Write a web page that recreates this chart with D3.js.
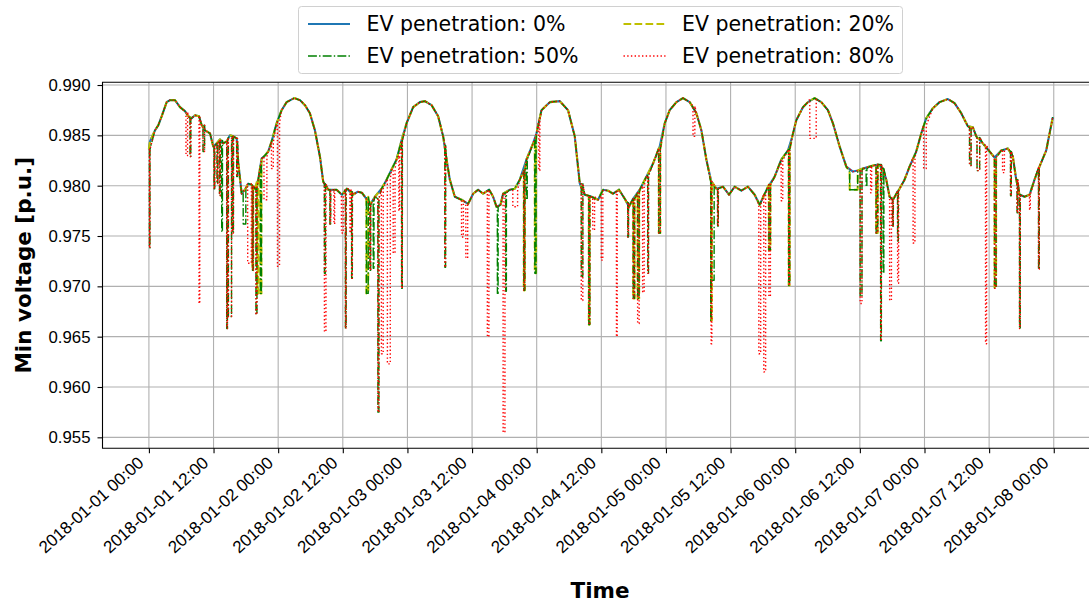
<!DOCTYPE html>
<html>
<head>
<meta charset="utf-8">
<script src="https://cdnjs.cloudflare.com/ajax/libs/d3/7.8.5/d3.min.js"></script>
<style>
body { margin: 0; background: #fff; }
svg { display: block; font-family: "DejaVu Sans", sans-serif; }
</style>
</head>
<body>
<svg></svg>
<script>
// base curve (0% EV): hours after 2018-01-01 00:00 and min voltage [p.u.]
var baseHours = [0, 0.2, 1.13, 1.74, 2.38, 3.30, 3.92, 4.84, 5.77, 6.70, 7.31, 7.94, 8.55, 9.30, 9.80, 10.41, 11.34, 11.95, 12.58, 13.19, 13.81, 14.44, 15.05, 15.66, 16.29, 16.59, 17.22, 17.83, 18.44, 19.08, 19.69, 20.30, 20.93, 21.54, 22.16, 22.79, 23.71,
	24.64, 25.57, 26.98, 28.04, 28.97, 29.89, 30.82, 31.75, 32.36, 33.29, 34.85, 35.83, 36.76, 37.87, 38.80, 39.54, 40.10, 41.03, 41.96, 43.20, 44.13, 45.05, 45.98, 46.91, 47.84,
	49.06, 50.31, 51.23, 52.48, 53.70, 54.63, 55.26, 55.87, 56.80, 58.04, 59.27, 60.20, 61.12, 62.05, 63.17, 63.91, 64.54, 65.28, 65.76, 67.01, 67.93, 68.86, 70.10, 71.33, 71.96,
	72.89, 74.43, 76.29, 77.82, 79.07, 80.00, 80.92, 82.17, 83.39, 84.32, 85.25, 86.18, 87.29, 88.35, 89.14, 89.89, 91.13, 92.37, 93.60, 94.84, 95.77,
	96.69, 97.94, 99.16, 100.41, 101.65, 102.58, 103.50, 104.43, 105.36, 106.59, 107.70, 108.76, 110.00, 111.22, 112.47, 113.40, 114.33, 115.25, 116.18, 117.42, 118.65, 119.46,
	120.20, 121.43, 122.36, 123.60, 124.84, 126.07, 127.00, 128.24, 129.48, 130.71, 131.64, 132.57, 133.81, 135.35, 136.27, 136.90, 137.52, 138.13, 139.37, 140.30, 141.23, 142.47, 143.40,
	144.33, 145.56, 146.80, 148.34, 149.58, 150.82, 152.05, 152.98, 153.61, 154.83, 156.08, 157.00, 158.25, 159.47, 160.40, 161.03, 161.64, 162.57, 163.50, 164.43, 165.35, 166.60, 167.82];
var baseVolts = [0.9836, 0.9844, 0.9855, 0.9860, 0.9869, 0.9883, 0.9885, 0.9885, 0.9878, 0.9874, 0.9869, 0.9867, 0.9870, 0.9869, 0.9860, 0.9855, 0.9852, 0.9839, 0.9842, 0.9846, 0.9842, 0.9844, 0.9850, 0.9849, 0.9847, 0.9823, 0.9792, 0.9796, 0.9802, 0.9801, 0.9797, 0.9806, 0.9827, 0.9830, 0.9834, 0.9844, 0.9862,
	0.9875, 0.9883, 0.9887, 0.9885, 0.9880, 0.9872, 0.9855, 0.9829, 0.9804, 0.9796, 0.9796, 0.9791, 0.9797, 0.9791, 0.9794, 0.9793, 0.9789, 0.9781, 0.9789, 0.9797, 0.9806, 0.9816, 0.9826, 0.9845, 0.9862,
	0.9878, 0.9883, 0.9884, 0.9880, 0.9869, 0.9849, 0.9826, 0.9806, 0.9789, 0.9786, 0.9782, 0.9792, 0.9796, 0.9792, 0.9796, 0.9789, 0.9779, 0.9781, 0.9792, 0.9796, 0.9797, 0.9806, 0.9826, 0.9842, 0.9852,
	0.9875, 0.9883, 0.9884, 0.9875, 0.9849, 0.9802, 0.9791, 0.9789, 0.9786, 0.9796, 0.9795, 0.9792, 0.9796, 0.9787, 0.9779, 0.9787, 0.9796, 0.9809, 0.9822, 0.9839, 0.9862,
	0.9875, 0.9883, 0.9887, 0.9883, 0.9872, 0.9855, 0.9826, 0.9804, 0.9797, 0.9799, 0.9791, 0.9799, 0.9795, 0.9799, 0.9791, 0.9781, 0.9792, 0.9801, 0.9809, 0.9826, 0.9835, 0.9849,
	0.9865, 0.9878, 0.9883, 0.9887, 0.9883, 0.9875, 0.9862, 0.9839, 0.9819, 0.9814, 0.9815, 0.9817, 0.9819, 0.9821, 0.9817, 0.9806, 0.9789, 0.9786, 0.9797, 0.9806, 0.9819, 0.9834, 0.9852,
	0.9867, 0.9877, 0.9883, 0.9886, 0.9882, 0.9872, 0.9859, 0.9858, 0.9849, 0.9842, 0.9834, 0.9828, 0.9835, 0.9837, 0.9829, 0.9806, 0.9791, 0.9789, 0.9791, 0.9806, 0.9819, 0.9835, 0.9868];

// voltage dips from EV charging: [hour, voltage before, lowest voltage, length in hours]
var dips20 = [[19.22, 0.9800, 0.9716, 0.15], [20.1, 0.9805, 0.9693, 0.2], [20.7, 0.9820, 0.9693, 0.2], [40.38, 0.9789, 0.9693, 0.35],
	[69.6, 0.9815, 0.9696, 0.2], [71.64, 0.9845, 0.9713, 0.25], [81.67, 0.9790, 0.9662, 0.15], [89.92, 0.9787, 0.9688, 0.25],
	[90.73, 0.9793, 0.9688, 0.3], [94.66, 0.9837, 0.9753, 0.3], [104.38, 0.9804, 0.9666, 0.15], [115.1, 0.9801, 0.9736, 0.3],
	[118.78, 0.9836, 0.9701, 0.2], [130.1, 0.9814, 0.9796, 1.5], [135.02, 0.9821, 0.9753, 0.3], [157.0, 0.9828, 0.9698, 0.3]];

var dips50 = [[0.1, 0.9836, 0.9738, 0.1], [7.63, 0.9867, 0.9829, 0.15], [10.04, 0.9860, 0.9834, 0.3], [12.08, 0.9839, 0.9797, 0.15],
	[12.64, 0.9842, 0.9802, 0.15], [13.10, 0.9845, 0.9790, 0.15], [13.51, 0.9845, 0.9754, 0.15], [14.44, 0.9844, 0.9658, 0.15],
	[14.75, 0.9848, 0.9670, 0.6], [15.55, 0.9849, 0.9753, 0.15], [16.29, 0.9847, 0.9809, 0.15], [17.5, 0.9795, 0.9762, 0.5],
	[19.22, 0.9800, 0.9716, 0.15], [19.87, 0.9798, 0.9672, 0.2], [20.7, 0.9820, 0.9693, 0.2], [32.58, 0.9802, 0.9713, 0.2],
	[33.6, 0.9796, 0.9762, 0.15], [36.48, 0.9796, 0.9658, 0.15], [37.63, 0.9794, 0.9708, 0.15], [40.38, 0.9789, 0.9693, 0.35],
	[41.03, 0.9781, 0.9716, 0.15], [41.64, 0.9785, 0.9718, 0.15], [42.51, 0.9787, 0.9575, 0.2], [46.91, 0.9845, 0.9698, 0.15],
	[54.94, 0.9840, 0.9719, 0.15], [64.69, 0.9779, 0.9693, 0.15], [66.23, 0.9793, 0.9695, 0.15], [69.6, 0.9815, 0.9696, 0.2],
	[70.1, 0.9826, 0.9786, 0.15], [71.64, 0.9845, 0.9713, 0.25], [80.27, 0.9802, 0.9710, 0.3], [81.67, 0.9790, 0.9662, 0.2],
	[88.9, 0.9783, 0.9749, 0.15], [89.92, 0.9787, 0.9688, 0.25], [90.73, 0.9793, 0.9688, 0.3], [92.61, 0.9810, 0.9713, 0.15],
	[94.66, 0.9837, 0.9753, 0.3], [104.3, 0.9804, 0.9666, 0.12], [104.45, 0.9800, 0.9706, 0.5], [105.58, 0.9797, 0.9760, 0.15],
	[115.1, 0.9801, 0.9736, 0.3], [118.78, 0.9836, 0.9701, 0.2], [130.1, 0.9814, 0.9796, 1.5], [132.05, 0.9815, 0.9690, 0.35],
	[133.16, 0.9817, 0.9799, 0.15], [135.02, 0.9821, 0.9753, 0.3], [135.85, 0.9821, 0.9646, 0.15], [136.31, 0.9817, 0.9713, 0.15],
	[138.07, 0.9786, 0.9760, 0.15], [139.0, 0.9795, 0.9745, 0.15], [152.36, 0.9858, 0.9820, 0.3], [153.75, 0.9848, 0.9815, 0.5],
	[157.0, 0.9828, 0.9698, 0.3], [159.97, 0.9834, 0.9790, 0.15], [161.18, 0.9806, 0.9773, 0.15], [161.64, 0.9791, 0.9658, 0.15],
	[165.17, 0.9818, 0.9717, 0.15]];

var dips80 = [[0.1, 0.9836, 0.9738, 0.1], [6.88, 0.9873, 0.9830, 0.3], [7.63, 0.9867, 0.9829, 0.15], [9.30, 0.9868, 0.9683, 0.15],
	[10.04, 0.9860, 0.9834, 0.3], [12.08, 0.9839, 0.9797, 0.15], [12.64, 0.9842, 0.9802, 0.15], [13.10, 0.9845, 0.9790, 0.15],
	[14.44, 0.9844, 0.9658, 0.15], [14.75, 0.9848, 0.9670, 0.6], [15.55, 0.9849, 0.9753, 0.15], [16.29, 0.9847, 0.9809, 0.15],
	[18.33, 0.9802, 0.9723, 0.7], [19.22, 0.9800, 0.9716, 0.15], [19.87, 0.9798, 0.9672, 0.2], [21.36, 0.9829, 0.9786, 0.55],
	[22.75, 0.9843, 0.9817, 0.35], [23.86, 0.9863, 0.9720, 0.4], [32.58, 0.9802, 0.9655, 0.3], [33.6, 0.9796, 0.9762, 0.15],
	[34.35, 0.9796, 0.9762, 0.15], [35.74, 0.9791, 0.9753, 0.35], [36.48, 0.9796, 0.9658, 0.15], [37.32, 0.9797, 0.9753, 0.1],
	[37.63, 0.9794, 0.9708, 0.15], [41.03, 0.9781, 0.9716, 0.15], [42.51, 0.9787, 0.9575, 0.2], [43.16, 0.9797, 0.9633, 0.35],
	[44.27, 0.9806, 0.9623, 0.55], [45.35, 0.9817, 0.9733, 0.35], [46.4, 0.9830, 0.9775, 0.15], [46.91, 0.9845, 0.9698, 0.15],
	[54.94, 0.9840, 0.9719, 0.15], [58.04, 0.9786, 0.9749, 0.35], [58.84, 0.9783, 0.9728, 0.35], [62.83, 0.9795, 0.9650, 0.3],
	[65.76, 0.9792, 0.9555, 0.35], [67.56, 0.9796, 0.9779, 0.9], [69.6, 0.9815, 0.9696, 0.2], [72.39, 0.9865, 0.9815, 0.2],
	[80.27, 0.9802, 0.9686, 0.3], [81.67, 0.9790, 0.9662, 0.2], [82.4, 0.9789, 0.9756, 0.35], [83.98, 0.9790, 0.9726, 0.3],
	[86.8, 0.9794, 0.9650, 0.15], [88.9, 0.9783, 0.9749, 0.15], [89.92, 0.9787, 0.9688, 0.25], [90.73, 0.9793, 0.9663, 0.3],
	[91.66, 0.9800, 0.9694, 0.3], [92.61, 0.9810, 0.9713, 0.15], [94.66, 0.9837, 0.9753, 0.3], [101.02, 0.9879, 0.9849, 0.35],
	[104.38, 0.9804, 0.9643, 0.15], [105.58, 0.9797, 0.9760, 0.15], [113.24, 0.9781, 0.9633, 0.35], [114.16, 0.9792, 0.9615, 0.35],
	[115.1, 0.9801, 0.9690, 0.3], [117.39, 0.9825, 0.9785, 0.3], [118.78, 0.9836, 0.9701, 0.2], [122.7, 0.9886, 0.9847, 1.2],
	[132.05, 0.9815, 0.9683, 0.35], [133.99, 0.9819, 0.9793, 0.2], [135.02, 0.9821, 0.9753, 0.3], [135.85, 0.9821, 0.9646, 0.15],
	[137.52, 0.9789, 0.9686, 0.35], [138.07, 0.9786, 0.9760, 0.15], [139.0, 0.9795, 0.9703, 0.2], [141.88, 0.9828, 0.9743, 0.35],
	[143.83, 0.9860, 0.9817, 0.5], [152.36, 0.9858, 0.9820, 0.3], [153.75, 0.9848, 0.9815, 0.5], [155.33, 0.9840, 0.9643, 0.2],
	[157.0, 0.9828, 0.9698, 0.3], [158.49, 0.9836, 0.9813, 0.35], [159.97, 0.9834, 0.9790, 0.15], [161.18, 0.9806, 0.9773, 0.15],
	[161.64, 0.9791, 0.9658, 0.15], [163.5, 0.9791, 0.9776, 0.15], [165.17, 0.9818, 0.9717, 0.15]];

var seriesNames = ["EV penetration: 0%", "EV penetration: 20%", "EV penetration: 50%", "EV penetration: 80%"];
var yTicks = [0.955, 0.960, 0.965, 0.970, 0.975, 0.980, 0.985, 0.990];

var width = 1089;
var height = 603;
var plotLeft = 102.5, plotRight = 1099, plotTop = 82.3, plotBottom = 448.3;
var start = new Date(2018, 0, 1);
var hourMs = 3600 * 1000;

var svg = d3.select("svg")
	.attr("width", width)
	.attr("height", height);

var xScale = d3.scaleTime()
	.domain([new Date(+start - 0.359 * 24 * hourMs), new Date(+start + 7.35 * 24 * hourMs)])
	.range([plotLeft, plotRight]);

var yScale = d3.scaleLinear()
	.domain([0.95391, 0.99027])
	.range([plotBottom, plotTop]);

var xTicks = d3.timeHour.every(12).range(start, new Date(+start + 7 * 24 * hourMs + 1));

// grid
svg.append("g")
	.selectAll("line")
	.data(xTicks)
	.join("line")
	.attr("x1", d => xScale(d)).attr("x2", d => xScale(d))
	.attr("y1", plotTop).attr("y2", plotBottom)
	.attr("stroke", "#b0b0b0").attr("stroke-width", 1.1);

svg.append("g")
	.selectAll("line")
	.data(yTicks)
	.join("line")
	.attr("x1", plotLeft).attr("x2", plotRight)
	.attr("y1", d => yScale(d)).attr("y2", d => yScale(d))
	.attr("stroke", "#b0b0b0").attr("stroke-width", 1.1);

// series = base curve with the dips cut in
function buildSeries(dips) {
	var pts = [];
	baseHours.forEach(function(h, i) {
		var inside = dips.some(d => h >= d[0] && h <= d[0] + d[3]);
		if (!inside) pts.push([h, baseVolts[i]]);
	});
	dips.forEach(function(d) {
		pts.push([d[0], d[1]], [d[0] + 0.01, d[2]], [d[0] + d[3] - 0.01, d[2]], [d[0] + d[3], d[1]]);
	});
	pts.sort((a, b) => a[0] - b[0]);
	return pts;
}

var series = [
	{ name: seriesNames[0], pts: buildSeries([]), color: "#1f77b4", lw: 2.1, dash: null },
	{ name: seriesNames[1], pts: buildSeries(dips20), color: "#bfbf00", lw: 2.1, dash: "7.7,3.3" },
	{ name: seriesNames[2], pts: buildSeries(dips50), color: "#008000", lw: 1.4, dash: "8.9,2.2,1.4,2.2" },
	{ name: seriesNames[3], pts: buildSeries(dips80), color: "#ff0000", lw: 1.4, dash: "1.4,2.3" }
];

svg.append("clipPath").attr("id", "plot")
	.append("rect").attr("x", plotLeft).attr("y", plotTop).attr("width", plotRight - plotLeft).attr("height", plotBottom - plotTop);

var line = d3.line()
	.x(d => xScale(new Date(+start + d[0] * hourMs)))
	.y(d => yScale(d[1]));

svg.append("g")
	.attr("clip-path", "url(#plot)")
	.selectAll("path")
	.data(series)
	.join("path")
	.attr("d", d => line(d.pts))
	.attr("fill", "none")
	.attr("stroke", d => d.color)
	.attr("stroke-width", d => d.lw)
	.attr("stroke-dasharray", d => d.dash)
	.attr("stroke-linejoin", "round");

// axes
var fmt = d3.timeFormat("%Y-%m-%d %H:%M");

var xAxis = svg.append("g")
	.attr("transform", `translate(0, ${plotBottom})`)
	.call(d3.axisBottom(xScale).tickValues(xTicks).tickFormat(fmt).tickSize(5).tickSizeOuter(0));
xAxis.select(".domain").remove();
xAxis.selectAll("line").attr("stroke", "#000").attr("stroke-width", 1.1);
xAxis.selectAll("text")
	.attr("y", null).attr("dy", null)
	.attr("transform", "translate(-4.5, 16) rotate(-42)")
	.style("text-anchor", "end")
	.style("font-size", "17px")
	.attr("fill", "#000");

var yAxis = svg.append("g")
	.attr("transform", `translate(${plotLeft}, 0)`)
	.call(d3.axisLeft(yScale).tickValues(yTicks).tickFormat(d3.format(".3f")).tickSize(5).tickPadding(7));
yAxis.select(".domain").remove();
yAxis.selectAll("line").attr("stroke", "#000").attr("stroke-width", 1.1);
yAxis.selectAll("text")
	.style("font-size", "16.8px")
	.attr("fill", "#000");

// spines
svg.append("path")
	.attr("d", `M${plotRight},${plotTop}H${plotLeft}V${plotBottom}H${plotRight}`)
	.attr("fill", "none")
	.attr("stroke", "#000")
	.attr("stroke-width", 1.1);

svg.append("text")
	.attr("transform", "translate(31, 265.3) rotate(-90)")
	.style("text-anchor", "middle")
	.style("font-size", "21.5px")
	.style("font-weight", "bold")
	.text("Min voltage [p.u.]");

svg.append("text")
	.attr("x", 600)
	.attr("y", 597.5)
	.style("text-anchor", "middle")
	.style("font-size", "21.5px")
	.style("font-weight", "bold")
	.text("Time");

// legend, two columns
var legend = svg.append("g");
legend.append("rect")
	.attr("x", 298.5).attr("y", 6.5)
	.attr("width", 604).attr("height", 67)
	.attr("rx", 3)
	.attr("fill", "#fff").attr("fill-opacity", 0.8)
	.attr("stroke", "#d0d0d0").attr("stroke-width", 1);

series.forEach(function(s, si) {
	var col = si === 0 || si === 2 ? 0 : 1;
	var row = si < 2 ? 0 : 1;
	var hx = col === 0 ? 308 : 623.5;
	var cy = row === 0 ? 24 : 56;
	legend.append("line")
		.attr("x1", hx).attr("x2", hx + 42)
		.attr("y1", cy).attr("y2", cy)
		.attr("stroke", s.color)
		.attr("stroke-width", s.lw)
		.attr("stroke-dasharray", s.dash);
	legend.append("text")
		.attr("x", hx + 58.5)
		.attr("y", cy + 7.3)
		.style("font-size", "20.5px")
		.text(s.name);
});
</script>
</body>
</html>
